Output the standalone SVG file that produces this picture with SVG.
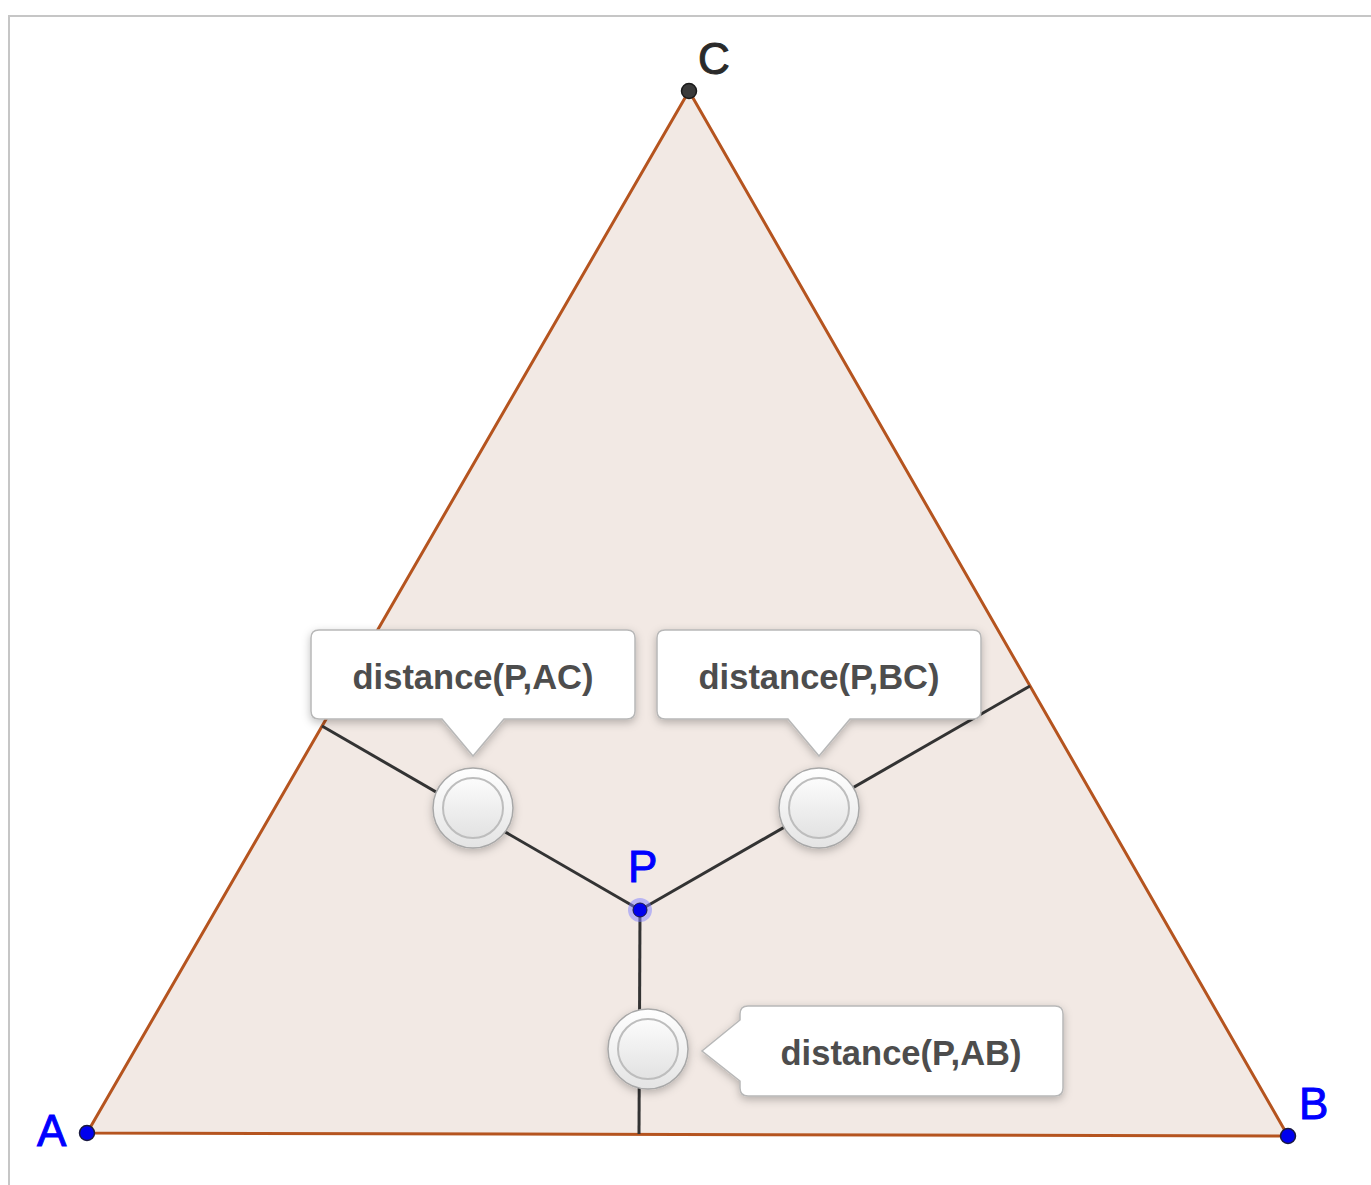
<svg xmlns="http://www.w3.org/2000/svg" width="1371" height="1185" viewBox="0 0 1371 1185">
  <defs>
    <style>
      .seg { stroke: #333333; stroke-width: 3; fill: none; }
      .side { stroke: #b5541f; stroke-width: 3; fill: #f2e9e4; stroke-linejoin: round; }
      .callout { fill: #ffffff; stroke: #b8b8b8; stroke-width: 1.5; filter: url(#shadow); }
      .ctext { font-family: "Liberation Sans", Arial, sans-serif; font-weight: bold; font-size: 34.5px; fill: #4d4d4d; text-anchor: middle; }
      .lbl { font-family: "Liberation Sans", Arial, sans-serif; font-size: 44px; stroke-width: 1; }
      .knob-outer { fill: url(#knobGrad); stroke: #a8a8a8; stroke-width: 1.5; filter: url(#shadow); }
      .knob-inner { fill: url(#knobInner); stroke: #bdbdbd; stroke-width: 2; }
    </style>
    <linearGradient id="knobGrad" x1="0" y1="0" x2="0" y2="1">
      <stop offset="0" stop-color="#ffffff"/>
      <stop offset="1" stop-color="#e4e4e4"/>
    </linearGradient>
    <linearGradient id="knobInner" x1="0" y1="0" x2="0" y2="1">
      <stop offset="0" stop-color="#fcfcfc"/>
      <stop offset="1" stop-color="#e2e2e2"/>
    </linearGradient>
    <filter id="shadow" x="-30%" y="-30%" width="160%" height="160%">
      <feDropShadow dx="0" dy="3" stdDeviation="4" flood-color="#000000" flood-opacity="0.25"/>
    </filter>
  </defs>

  <rect x="0" y="0" width="1371" height="1185" fill="#ffffff"/>
  <rect id="frame" x="9" y="16" width="1400" height="1220" fill="none" stroke="#c6c6c6" stroke-width="2"/>

  <g id="triangle">
    <polygon class="side" points="87,1133 1288,1136 689,91"/>
  </g>

  <g id="connectors">
    <line class="seg" x1="640" y1="910" x2="639" y2="1134"/>
    <line class="seg" x1="640" y1="910" x2="322" y2="726"/>
    <line class="seg" x1="640" y1="910" x2="1030" y2="686"/>
  </g>

  <g id="knob-AC">
    <circle class="knob-outer" cx="473" cy="808" r="40"/>
    <circle class="knob-inner" cx="473" cy="808" r="30"/>
  </g>
  <g id="knob-BC">
    <circle class="knob-outer" cx="819" cy="808" r="40"/>
    <circle class="knob-inner" cx="819" cy="808" r="30"/>
  </g>
  <g id="knob-AB">
    <circle class="knob-outer" cx="648" cy="1049" r="40"/>
    <circle class="knob-inner" cx="648" cy="1049" r="30"/>
  </g>

  <g id="callout-AC">
    <path class="callout" d="M319,630 H627 Q635,630 635,638 V711 Q635,719 627,719 H504 L473,756 L442,719 H319 Q311,719 311,711 V638 Q311,630 319,630 Z"/>
    <text class="ctext" x="473" y="689">distance(P,AC)</text>
  </g>
  <g id="callout-BC">
    <path class="callout" d="M665,630 H973 Q981,630 981,638 V711 Q981,719 973,719 H850 L819,756 L788,719 H665 Q657,719 657,711 V638 Q657,630 665,630 Z"/>
    <text class="ctext" x="819" y="689">distance(P,BC)</text>
  </g>
  <g id="callout-AB">
    <path class="callout" d="M748,1006 H1055 Q1063,1006 1063,1014 V1088 Q1063,1096 1055,1096 H748 Q740,1096 740,1088 V1081 L702,1051 L740,1020 V1014 Q740,1006 748,1006 Z"/>
    <text class="ctext" x="901" y="1065">distance(P,AB)</text>
  </g>

  <g id="point-A">
    <circle cx="87" cy="1133" r="7.5" fill="#0000ee" stroke="#1a1a40" stroke-width="1.5"/>
    <text class="lbl" x="37" y="1146" fill="#0000ff" stroke="#0000ff">A</text>
  </g>
  <g id="point-B">
    <circle cx="1288" cy="1136" r="7.5" fill="#0000ee" stroke="#1a1a40" stroke-width="1.5"/>
    <text class="lbl" x="1299" y="1119" fill="#0000ff" stroke="#0000ff">B</text>
  </g>
  <g id="point-C">
    <circle cx="689" cy="91" r="7.5" fill="#3a3a3a" stroke="#1a1a1a" stroke-width="1.5"/>
    <text class="lbl" x="698" y="74" fill="#2a2a2a" stroke="#2a2a2a">C</text>
  </g>
  <g id="point-P">
    <circle cx="640" cy="910" r="12" fill="#7f7fff" opacity="0.5"/>
    <circle cx="640" cy="910" r="7" fill="#0000ee" stroke="#1a1a40" stroke-width="1"/>
    <text class="lbl" x="628" y="882" fill="#0000ff" stroke="#0000ff">P</text>
  </g>
</svg>
